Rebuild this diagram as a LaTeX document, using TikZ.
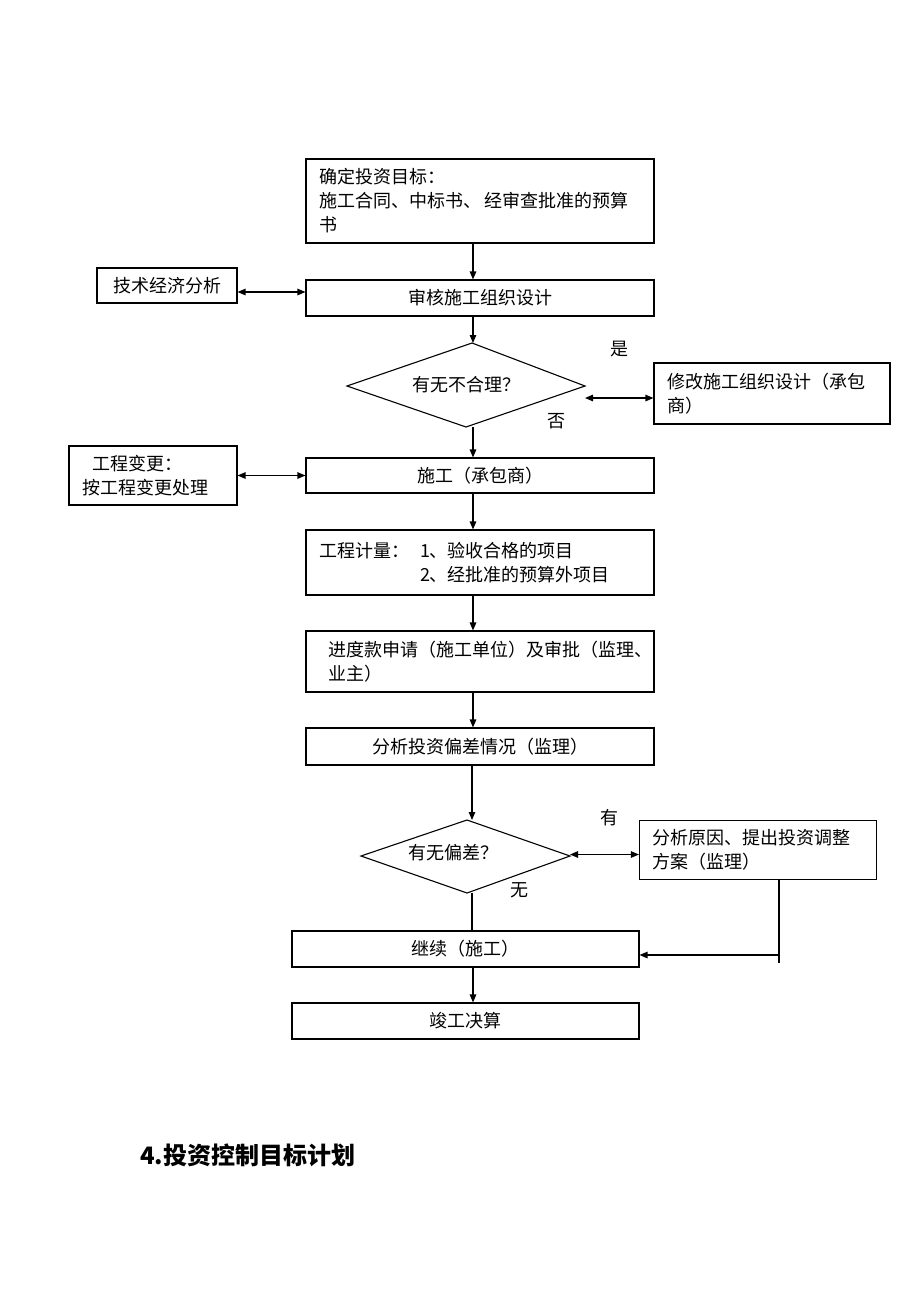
\documentclass[tikz,border=0pt]{standalone}
\usepackage{fontspec}
\setmainfont{Noto Sans CJK SC}
\usetikzlibrary{arrows.meta}
\begin{document}
\begin{tikzpicture}[x=1pt,y=-1pt,
  every node/.style={font=\fontsize{18}{24}\selectfont},
  box/.style={draw, line width=1.1pt, inner sep=0pt, align=center},
  lbox/.style={draw, line width=1.1pt, inner ysep=0pt, align=left},
  lbl/.style={inner sep=0pt},
  arr/.style={line width=1.2pt, -{Triangle[length=8pt,width=6.5pt]}},
  darr/.style={line width=1.2pt, {Triangle[length=8pt,width=6.5pt]}-{Triangle[length=8pt,width=6.5pt]}},
  ln/.style={line width=1.2pt},
  dia/.style={line width=1.1pt}]
\useasboundingbox[fill=white] (0,0) rectangle (920,1302);
\coordinate (ax) at (473,0);

% boxes
\node[lbox, inner xsep=13pt, text width=322pt, minimum height=84pt] (b1) at (480,201)
  {确定投资目标：\\施工合同、中标书、\hspace{4pt}经审查批准的预算\\书};
\node[box, minimum width=140pt, minimum height=35pt] (tech) at (167,285.5) {技术经济分析};
\node[box, minimum width=348pt, minimum height=36pt] (b2) at (480,298) {审核施工组织设计};

% diamond 1
\coordinate (d1t) at (472,343);
\coordinate (d1l) at (347,386);
\coordinate (d1r) at (585,386);
\coordinate (d1b) at (466,427);
\draw[dia] (d1t) -- (d1r) -- (d1b) -- (d1l) -- cycle;
\node[lbl] (d1) at (466,385) {有无不合理？};
\node[lbl] (yes1) at (619,349) {是};
\node[lbl] (no1) at (556,421) {否};

\node[lbox, inner xsep=13pt, text width=210pt, minimum height=61pt] (mod) at (772,393.5)
  {修改施工组织设计（承包\\商）};

\node[lbox, inner xsep=13pt, text width=142pt, minimum height=59pt] (chg) at (153,475.5)
  {\hspace*{10pt}工程变更：\\按工程变更处理};
\node[box, minimum width=348pt, minimum height=35pt] (b3) at (480,475.5) {施工（承包商）};

\node[lbox, inner xsep=13pt, text width=322pt, minimum height=65pt] (b4) at (480,562.5)
  {\makebox[101pt][l]{工程计量：}1、验收合格的项目\\\hspace*{101pt}2、经批准的预算外项目};

\node[lbox, inner xsep=22pt, text width=304pt, minimum height=61pt] (b5) at (480,661.5)
  {进度款申请（施工单位）及审批（监理、\\业主）};

\node[box, minimum width=348pt, minimum height=37pt] (b6) at (480,746.5) {分析投资偏差情况（监理）};

% diamond 2
\coordinate (d2t) at (467,820);
\coordinate (d2l) at (361,856);
\coordinate (d2r) at (570,856);
\coordinate (d2b) at (467,893);
\draw[dia] (d2t) -- (d2r) -- (d2b) -- (d2l) -- cycle;
\node[lbl] (d2) at (453,853) {有无偏差？};
\node[lbl] (yes2) at (609,818) {有};
\node[lbl] (no2) at (519,890) {无};

\node[lbox, inner xsep=13pt, text width=211pt, minimum height=59pt] (ana) at (758,850)
  {分析原因、提出投资调整\\方案（监理）};

\node[box, minimum width=347pt, minimum height=36pt] (b7) at (465.5,949) {继续（施工）};
\node[box, minimum width=347pt, minimum height=36pt] (b8) at (465.5,1021) {竣工决算};

\node[lbl, anchor=west, font=\fontsize{24}{26}\selectfont\bfseries] (head) at (140,1155) {4.投资控制目标计划};

% connectors
\draw[arr] (b1.south -| ax) -- (b2.north -| ax);
\draw[darr] (tech.east |- b2.west) ++(0,-6) -- ([yshift=6pt]b2.west);
\draw[arr] (b2.south -| ax) -- (d1t -| ax);
\draw[darr] ([yshift=-4.5pt]mod.west -| d1r) -- ([yshift=-4.5pt]mod.west);
\draw[arr] (d1b -| ax) -- (b3.north -| ax);
\draw[darr] (chg.east |- b3.west) -- (b3.west);
\draw[arr] (b3.south -| ax) -- (b4.north -| ax);
\draw[arr] (b4.south -| ax) -- (b5.north -| ax);
\draw[arr] (b5.south -| ax) -- (b6.north -| ax);
\draw[arr] ([xshift=-1pt]b6.south -| ax) -- ([xshift=-1pt]d2t -| ax);
\draw[darr] ([yshift=-4.5pt]ana.west -| d2r) -- ([yshift=-4.5pt]ana.west);
\draw[ln] ([xshift=-1pt]d2b -| ax) -- ([xshift=-1pt]b7.north -| ax);
\coordinate (fb) at (779,955);
\draw[ln] (ana.south -| fb) -- ([yshift=-8.3pt]fb);
\draw[arr] (fb) -- (b7.east |- fb);
\draw[arr] (b7.south -| ax) -- (b8.north -| ax);
\end{tikzpicture}
\end{document}
